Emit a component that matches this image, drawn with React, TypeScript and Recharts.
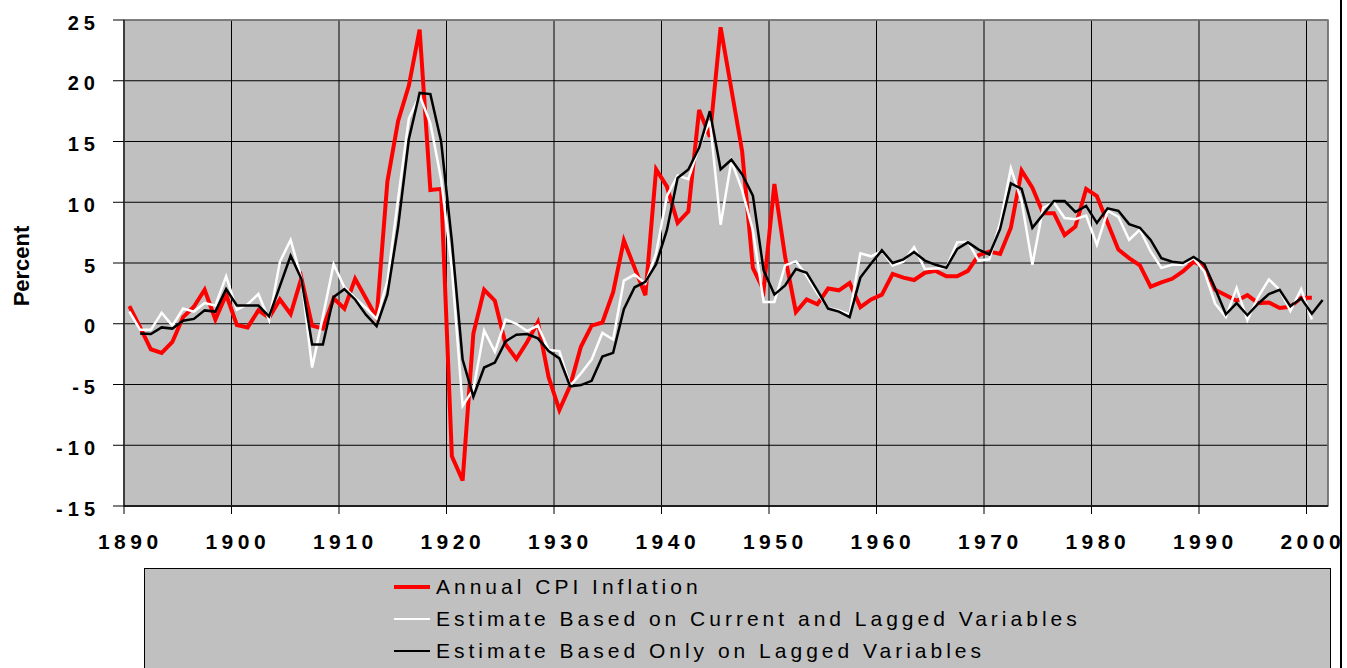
import React from 'react';
import { LineChart, Line, XAxis, YAxis, CartesianGrid, ReferenceArea } from 'recharts';

// ---------- data ----------
const years = [
  1890, 1891, 1892, 1893, 1894, 1895, 1896, 1897, 1898, 1899,
  1900, 1901, 1902, 1903, 1904, 1905, 1906, 1907, 1908, 1909,
  1910, 1911, 1912, 1913, 1914, 1915, 1916, 1917, 1918, 1919,
  1920, 1921, 1922, 1923, 1924, 1925, 1926, 1927, 1928, 1929,
  1930, 1931, 1932, 1933, 1934, 1935, 1936, 1937, 1938, 1939,
  1940, 1941, 1942, 1943, 1944, 1945, 1946, 1947, 1948, 1949,
  1950, 1951, 1952, 1953, 1954, 1955, 1956, 1957, 1958, 1959,
  1960, 1961, 1962, 1963, 1964, 1965, 1966, 1967, 1968, 1969,
  1970, 1971, 1972, 1973, 1974, 1975, 1976, 1977, 1978, 1979,
  1980, 1981, 1982, 1983, 1984, 1985, 1986, 1987, 1988, 1989,
  1990, 1991, 1992, 1993, 1994, 1995, 1996, 1997, 1998, 1999,
  2000, 2001,
];

const annualCpiInflation: (number | null)[] = [
  1.45, -0.3, -2.1, -2.4, -1.5, 0.55, 1.4, 2.8, 0.35, 2.4,
  -0.1, -0.3, 1.1, 0.5, 2.0, 0.8, 3.75, -0.15, -0.4, 2.1,
  1.25, 3.7, 2.1, 0.5, 11.7, 16.7, 19.6, 24.2, 11.0, 11.1,
  -10.9, -12.9, -0.8, 2.8, 1.9, -1.7, -2.9, -1.5, 0.12, -4.4,
  -7.1, -5.1, -1.9, -0.15, 0.1, 2.6, 6.85, 4.6, 2.35, 12.7,
  11.3, 8.3, 9.25, 17.6, 15.4, 24.4, 19.3, 14.2, 4.6, 2.76,
  11.5, 5.5, 0.97, 2.0, 1.6, 2.9, 2.75, 3.35, 1.37, 2.0,
  2.4, 4.1, 3.8, 3.6, 4.2, 4.35, 3.9, 3.9, 4.35, 5.65,
  5.95, 5.75, 7.9, 12.6, 11.2, 9.1, 9.1, 7.3, 8.0, 11.1,
  10.5, 8.3, 6.1, 5.4, 4.8, 3.05, 3.4, 3.7, 4.3, 5.1,
  4.7, 2.8, 2.35, 1.9, 2.35, 1.7, 1.75, 1.3, 1.4, 2.15,
  2.15, null,
];

const estimateCurrentAndLagged: (number | null)[] = [
  1.0, -0.5, -0.5, 0.9, -0.15, 1.25, 1.0, 1.7, 1.5, 3.9,
  1.15, 1.6, 2.45, 0.3, 5.1, 6.9, 3.75, -3.6, 0.6, 4.9,
  3.0, 2.1, 1.3, 0.4, 3.5, 10.3, 16.9, 18.8, 16.5, 11.9,
  4.5, -6.75, -5.4, -0.55, -2.3, 0.35, 0.0, -0.6, -0.15, -2.15,
  -2.25, -5.1, -4.1, -2.95, -0.75, -1.3, 3.55, 4.05, 3.3, 5.8,
  10.5, 12.2, 11.9, 14.6, 16.7, 8.15, 13.4, 11.0, 7.7, 1.8,
  1.8, 4.8, 5.15, 3.95, 2.5, 1.3, 1.1, 0.75, 5.8, 5.55,
  6.0, 4.8, 5.1, 6.3, 4.5, 4.55, 4.6, 6.7, 6.75, 5.2,
  5.3, 8.3, 12.8, 10.1, 4.85, 9.55, 10.0, 8.7, 8.6, 8.9,
  6.5, 9.3, 8.8, 6.9, 7.75, 5.95, 4.6, 4.85, 4.85, 5.4,
  4.3, 1.65, 0.55, 2.95, 0.3, 2.2, 3.65, 2.8, 1.05, 2.85,
  0.35, null,
];

const estimateOnlyLagged: (number | null)[] = [
  null, -0.8, -0.85, -0.3, -0.4, 0.25, 0.4, 1.1, 1.0, 2.85,
  1.5, 1.5, 1.5, 0.6, 3.1, 5.6, 3.7, -1.7, -1.7, 2.2,
  2.85, 2.0, 0.75, -0.2, 2.4, 8.0, 15.2, 19.0, 18.9, 15.0,
  6.8, -2.95, -6.0, -3.6, -3.2, -1.45, -0.9, -0.85, -1.2, -2.25,
  -2.85, -5.15, -5.05, -4.7, -2.7, -2.4, 1.2, 3.0, 3.45, 4.9,
  7.7, 12.0, 12.7, 14.5, 17.5, 12.7, 13.5, 12.3, 10.55, 4.4,
  2.4, 3.15, 4.5, 4.2, 2.75, 1.25, 1.0, 0.55, 3.8, 4.95,
  6.05, 5.0, 5.3, 5.9, 5.2, 4.85, 4.6, 6.15, 6.7, 6.1,
  5.7, 7.8, 11.55, 11.1, 7.9, 9.0, 10.1, 10.1, 9.2, 9.7,
  8.3, 9.5, 9.3, 8.2, 7.9, 6.9, 5.4, 5.1, 5.0, 5.5,
  4.9, 2.9, 0.78, 1.7, 0.7, 1.65, 2.45, 2.8, 1.45, 2.1,
  0.83, 1.95,
];

const xTickLabels = ['1890', '1900', '1910', '1920', '1930', '1940', '1950', '1960', '1970', '1980', '1990', '2000'];
const yTicks = [-15, -10, -5, 0, 5, 10, 15, 20, 25];

const seriesNames = [
  'Annual CPI Inflation',
  'Estimate Based on Current and Lagged Variables',
  'Estimate Based Only on Lagged Variables',
];

// ---------- derived ----------
const data = years.map((year, i) => ({
  year,
  cpi: annualCpiInflation[i],
  current: estimateCurrentAndLagged[i],
  lagged: estimateOnlyLagged[i],
}));

// category boundaries (ticks sit between categories, as in the original)
const xBoundaryTicks = xTickLabels.map((l) => Number(l) - 0.5);
const xDomain: [number, number] = [years[0] - 0.5, years[years.length - 1] + 0.5];

const seriesStyle = [
  { key: 'cpi', name: seriesNames[0], color: '#ff0000', width: 4 },
  { key: 'current', name: seriesNames[1], color: '#ffffff', width: 2.5 },
  { key: 'lagged', name: seriesNames[2], color: '#000000', width: 2.5 },
];

const FONT = '"Liberation Sans", Arial, Helvetica, sans-serif';

const XTick = (props: any) => {
  const { x, y, index } = props;
  const ls = 4.5;
  return (
    <text
      x={x + 4 + ls / 2}
      y={y + 33}
      textAnchor="middle"
      fontFamily={FONT}
      fontWeight="bold"
      fontSize={21}
      letterSpacing={ls}
      fill="#000"
    >
      {xTickLabels[index]}
    </text>
  );
};

const YTick = (props: any) => {
  const { x, y, payload } = props;
  return (
    <text
      x={x}
      y={y + 9.5}
      textAnchor="end"
      fontFamily={FONT}
      fontWeight="bold"
      fontSize={20}
      letterSpacing={5}
      fill="#000"
    >
      {String(payload.value)}
    </text>
  );
};

const PercentLabel = (props: any) => {
  const vb = props.viewBox || { x: 64, y: 20, width: 60, height: 486 };
  const cx = vb.x - 35.5;
  const cy = vb.y + vb.height / 2 + 3;
  return (
    <text
      x={cx}
      y={cy}
      transform={`rotate(-90, ${cx}, ${cy})`}
      textAnchor="middle"
      fontFamily={FONT}
      fontWeight="bold"
      fontSize={22}
      fill="#000"
    >
      Percent
    </text>
  );
};

export default function App() {
  return (
    <div
      style={{
        position: 'absolute',
        left: 0,
        top: 0,
        width: 1347,
        height: 668,
        overflow: 'hidden',
        background: '#ffffff',
      }}
    >
      <LineChart
        width={1347}
        height={668}
        data={data}
        margin={{ top: 20, right: 19, bottom: 132, left: 64 }}
      >
        <CartesianGrid
          stroke="#000000"
          strokeWidth={1}
          fill="#c0c0c0"
          fillOpacity={1}
          horizontal={true}
          vertical={true}
        />
        <ReferenceArea
          x1={xDomain[0]}
          x2={xDomain[1]}
          y1={-15}
          y2={25}
          fill="none"
          stroke="#808080"
          strokeWidth={1.5}
          ifOverflow="visible"
        />
        <XAxis
          dataKey="year"
          type="number"
          domain={xDomain}
          ticks={xBoundaryTicks}
          interval={0}
          height={30}
          tickSize={8}
          tickMargin={2}
          axisLine={{ stroke: '#000', strokeWidth: 1.5 }}
          tickLine={{ stroke: '#000' }}
          tick={<XTick />}
          allowDataOverflow
        />
        <YAxis
          type="number"
          domain={[-15, 25]}
          ticks={yTicks}
          interval={0}
          width={60}
          tickSize={11}
          tickMargin={13}
          axisLine={{ stroke: '#000', strokeWidth: 1 }}
          tickLine={{ stroke: '#000' }}
          tick={<YTick />}
          label={{ content: <PercentLabel /> }}
          allowDataOverflow
        />
        {seriesStyle.map((s) => (
          <Line
            key={s.key}
            type="linear"
            dataKey={s.key}
            name={s.name}
            stroke={s.color}
            strokeWidth={s.width}
            dot={false}
            activeDot={false}
            connectNulls={false}
            isAnimationActive={false}
          />
        ))}
      </LineChart>

      {/* legend */}
      <div
        style={{
          position: 'absolute',
          left: 144,
          top: 568,
          width: 1187,
          height: 120,
          background: '#c0c0c0',
          border: '1px solid #000',
          boxSizing: 'border-box',
        }}
      >
        {seriesStyle.map((s, i) => (
          <div
            key={s.key}
            style={{
              position: 'absolute',
              left: 249,
              top: 2 + i * 32,
              height: 32,
              display: 'flex',
              alignItems: 'center',
              whiteSpace: 'nowrap',
            }}
          >
            <div style={{ width: 36, height: s.width, background: s.color }} />
            <span
              style={{
                marginLeft: 6,
                fontFamily: FONT,
                fontSize: 21,
                letterSpacing: 4,
                color: '#000',
              }}
            >
              {s.name}
            </span>
          </div>
        ))}
      </div>

      {/* outer frame line on the right */}
      <div
        style={{
          position: 'absolute',
          left: 1340,
          top: 0,
          width: 2,
          height: 668,
          background: '#000',
        }}
      />
    </div>
  );
}
